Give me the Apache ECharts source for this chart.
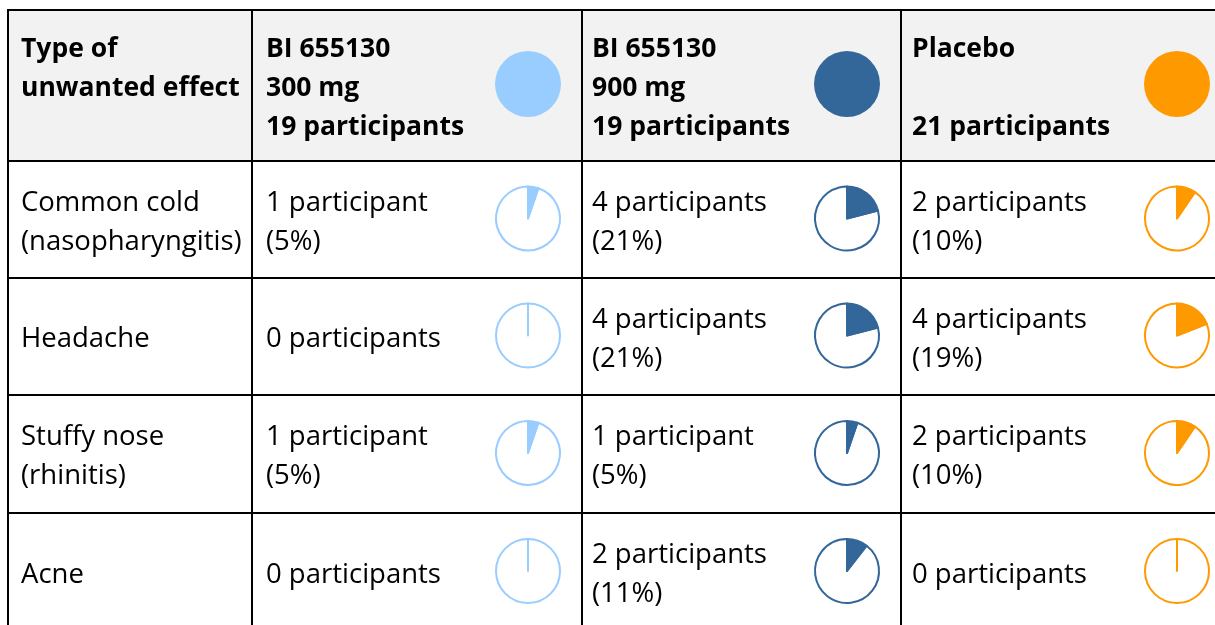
<!DOCTYPE html>
<html>
<head>
<meta charset="utf-8">
<script src="https://cdn.jsdelivr.net/npm/echarts@6/dist/echarts.min.js"></script>
<style>
html, body { margin: 0; padding: 0; background: #fff; }
#chart { width: 1215px; height: 625px; }
</style>
</head>
<body>
<div id="chart"></div>
<script>
// data
const firstHeader = 'Type of\nunwanted effect';
const groupNames = ['BI 655130\n300 mg\n19 participants', 'BI 655130\n900 mg\n19 participants', 'Placebo\n\n21 participants'];
const effects = ['Common cold\n(nasopharyngitis)', 'Headache', 'Stuffy nose\n(rhinitis)', 'Acne'];
const totals = [19, 19, 21];
const counts300 = [1, 0, 1, 0];
const counts900 = [4, 4, 1, 2];
const countsPlacebo = [2, 4, 2, 0];
const groupColors = ['#99ccff', '#336699', '#ff9900'];

// table layout
const colX = [8, 252, 582, 901, 1217];
const rowY = [10, 161, 278, 395, 513, 631];
const textX = [21, 266, 592, 912];
const pieX = [528, 847, 1177];
const pieR = 32;
const lineH = 39;
const fontFamily = '"Open Sans", sans-serif';
const fontSize = 27.5;
const boldSize = 26.5;

const allCounts = [counts300, counts900, countsPlacebo];

function cellText(n, total) {
  if (n === 0) return '0 participants';
  const word = n === 1 ? 'participant' : 'participants';
  return n + ' ' + word + '\n(' + Math.round(n / total * 100) + '%)';
}

let chartDom = document.getElementById('chart');
let myChart = echarts.init(chartDom);

const graphics = [];
// header background
graphics.push({
  type: 'rect', silent: true, z: 0,
  shape: { x: colX[0], y: rowY[0], width: colX[4] - colX[0], height: rowY[1] - rowY[0] },
  style: { fill: '#f2f2f2' }
});
// grid lines
rowY.forEach(y => {
  graphics.push({
    type: 'line', silent: true, z: 5,
    shape: { x1: colX[0] - 1, y1: y, x2: colX[4], y2: y },
    style: { stroke: '#000', lineWidth: 2 }
  });
});
colX.forEach(x => {
  graphics.push({
    type: 'line', silent: true, z: 5,
    shape: { x1: x, y1: rowY[0], x2: x, y2: rowY[5] },
    style: { stroke: '#000', lineWidth: 2 }
  });
});
// header texts
[firstHeader].concat(groupNames).forEach((t, i) => {
  graphics.push({
    type: 'text', silent: true, z: 10,
    x: textX[i], y: rowY[0] + 20,
    style: {
      text: t, fill: '#000', font: 'bold ' + boldSize + 'px ' + fontFamily,
      lineHeight: lineH, align: 'left', verticalAlign: 'top'
    }
  });
});
// body texts
effects.forEach((eff, r) => {
  const cy = (rowY[r + 1] + rowY[r + 2]) / 2 + 3;
  const texts = [eff].concat(allCounts.map((c, g) => cellText(c[r], totals[g])));
  texts.forEach((t, i) => {
    graphics.push({
      type: 'text', silent: true, z: 10,
      x: textX[i], y: cy,
      style: {
        text: t, fill: '#000', font: fontSize + 'px ' + fontFamily,
        lineHeight: lineH, align: 'left', verticalAlign: 'middle'
      }
    });
  });
});

const series = [];
// header circles
groupNames.forEach((g, i) => {
  series.push({
    type: 'pie', silent: true, animation: false,
    center: [pieX[i], (rowY[0] + rowY[1]) / 2 - 1.5],
    radius: pieR + 1,
    label: { show: false }, labelLine: { show: false },
    data: [{ value: totals[i], itemStyle: { color: groupColors[i] } }]
  });
});
// cell pies
allCounts.forEach((counts, g) => {
  counts.forEach((n, r) => {
    series.push({
      type: 'pie', silent: true, animation: false,
      center: [pieX[g], (rowY[r + 1] + rowY[r + 2]) / 2 - 1],
      radius: pieR,
      startAngle: 90, clockwise: true, minAngle: 0,
      label: { show: false }, labelLine: { show: false },
      data: [
        { value: n, itemStyle: { color: groupColors[g], borderColor: groupColors[g], borderWidth: 2 } },
        { value: totals[g] - n, itemStyle: { color: 'rgba(255,255,255,0)', borderColor: groupColors[g], borderWidth: 2 } }
      ]
    });
  });
});

let option = {
  backgroundColor: '#fff',
  graphic: graphics,
  series: series
};
option && myChart.setOption(option);
</script>
</body>
</html>
